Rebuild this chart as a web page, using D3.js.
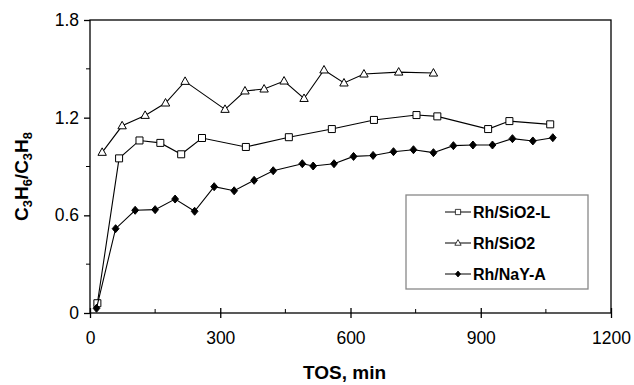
<!DOCTYPE html>
<html>
<head>
<meta charset="utf-8">
<script src="https://cdn.jsdelivr.net/npm/d3@7"></script>
<style>
  body { margin: 0; background: #fff; }
  text { font-family: "Liberation Sans", Arial, sans-serif; }
</style>
</head>
<body>
<div id="chart"></div>
<script>
// data
var tosSiO2L = [17, 67, 114, 162, 210, 258, 359, 458, 557, 654, 752, 800, 917, 966, 1060];
var valSiO2L = [0.06, 0.95, 1.06, 1.045, 0.975, 1.075, 1.02, 1.08, 1.13, 1.186, 1.216, 1.208, 1.13, 1.179, 1.159];

var tosSiO2 = [28, 74, 127, 174, 219, 311, 357, 401, 447, 493, 539, 585, 631, 711, 791];
var valSiO2 = [0.987, 1.15, 1.214, 1.29, 1.423, 1.251, 1.364, 1.376, 1.425, 1.318, 1.493, 1.413, 1.468, 1.48, 1.474];

var tosNaY = [15, 59, 104, 150, 196, 241, 286, 332, 378, 422, 489, 514, 562, 607, 652, 699, 745, 791, 837, 882, 927, 973, 1020, 1066];
var valNaY = [0.029, 0.518, 0.631, 0.635, 0.70, 0.625, 0.776, 0.751, 0.815, 0.874, 0.917, 0.903, 0.917, 0.962, 0.968, 0.991, 1.003, 0.985, 1.028, 1.032, 1.032, 1.071, 1.057, 1.077];

var seriesNames = ["Rh/SiO2-L", "Rh/SiO2", "Rh/NaY-A"];
var xTicks = [0, 300, 600, 900, 1200];
var xMinor = [150, 450, 750, 1050];
var yTicks = [0, 0.6, 1.2, 1.8];
var yMinor = [0.3, 0.9, 1.5];

var margin = { top: 20, right: 23, bottom: 72, left: 90 },
    width = 634 - margin.left - margin.right,
    height = 385 - margin.top - margin.bottom;

var svg = d3.select("#chart")
    .append("svg")
    .attr("width", 634)
    .attr("height", 385)
    .append("g")
    .attr("transform", "translate(" + margin.left + "," + margin.top + ")");

var x = d3.scaleLinear().domain([0, 1200]).range([0, width]);
var y = d3.scaleLinear().domain([0, 1.8]).range([height, 0]);

// frame
svg.append("rect")
    .attr("width", width)
    .attr("height", height)
    .style("fill", "none")
    .style("stroke", "#000")
    .style("stroke-width", 1.3);

// x axis: major ticks cross the axis, minor ticks inside
var xaxis = svg.append("g")
    .attr("transform", "translate(0," + height + ")")
    .call(d3.axisBottom(x).tickValues(xTicks).tickSize(5).tickPadding(14).tickFormat(d3.format("d")));
xaxis.select(".domain").remove();
xaxis.selectAll(".tick line").attr("y1", -5).style("stroke-width", 1.3);
xaxis.selectAll("text").style("font-size", "17.5px").style("fill", "#000");
svg.append("g").selectAll("line").data(xMinor).enter().append("line")
    .attr("x1", function (d) { return x(d); })
    .attr("x2", function (d) { return x(d); })
    .attr("y1", height)
    .attr("y2", height - 4)
    .style("stroke", "#000");

// y axis
var yaxis = svg.append("g")
    .call(d3.axisLeft(y).tickValues(yTicks).tickSize(6).tickPadding(5).tickFormat(function (d) { return d === 0 ? "0" : d3.format(".1f")(d); }));
yaxis.select(".domain").remove();
yaxis.selectAll(".tick line").style("stroke-width", 1.3);
yaxis.selectAll("text").style("font-size", "17.5px").style("fill", "#000");
svg.append("g").selectAll("line").data(yMinor).enter().append("line")
    .attr("x1", 0)
    .attr("x2", -4)
    .attr("y1", function (d) { return y(d); })
    .attr("y2", function (d) { return y(d); })
    .style("stroke", "#000");

// axis titles
svg.append("text")
    .attr("x", width / 2 - 6)
    .attr("y", height + 66)
    .style("text-anchor", "middle")
    .style("font-size", "19px")
    .style("font-weight", "bold")
    .text("TOS, min");

var ylab = svg.append("text")
    .attr("transform", "translate(" + (-62) + "," + (height / 2 + 10) + ") rotate(-90)")
    .style("text-anchor", "middle")
    .style("font-size", "19px")
    .style("font-weight", "bold");
[["C", false], ["3", true], ["H", false], ["6", true], ["/C", false], ["3", true], ["H", false], ["8", true]].forEach(function (p, i, arr) {
    var t = ylab.append("tspan").text(p[0]);
    if (p[1]) t.style("font-size", "13px").attr("dy", 4);
    else if (i > 0 && arr[i - 1][1]) t.attr("dy", -4);
});

// markers
var markers = {
    square: "M-3.5,-3.5H3.5V3.5H-3.5Z",
    triangle: "M0,-4.5L4.2,3L-4.2,3Z",
    diamond: "M0,-4L3.4,0L0,4L-3.4,0Z"
};

var series = [
    { name: seriesNames[0], xs: tosSiO2L, ys: valSiO2L, mark: "square", fill: "#fff" },
    { name: seriesNames[1], xs: tosSiO2, ys: valSiO2, mark: "triangle", fill: "#fff" },
    { name: seriesNames[2], xs: tosNaY, ys: valNaY, mark: "diamond", fill: "#000" }
];

var line = d3.line()
    .x(function (d) { return x(d[0]); })
    .y(function (d) { return y(d[1]); });

series.forEach(function (s) {
    var pts = d3.zip(s.xs, s.ys);
    svg.append("path")
        .datum(pts)
        .attr("d", line)
        .style("fill", "none")
        .style("stroke", "#000")
        .style("stroke-width", 1.1);
    svg.append("g").selectAll("path")
        .data(pts)
        .enter()
        .append("path")
        .attr("d", markers[s.mark])
        .attr("transform", function (d) { return "translate(" + x(d[0]) + "," + y(d[1]) + ")"; })
        .style("fill", s.fill)
        .style("stroke", "#000")
        .style("stroke-width", 1);
});

// legend
var legend = svg.append("g").attr("transform", "translate(" + (406 - margin.left) + "," + (195 - margin.top) + ")");
legend.append("rect")
    .attr("width", 182)
    .attr("height", 94)
    .style("fill", "#fff")
    .style("stroke", "#888")
    .style("stroke-width", 1.3);
series.forEach(function (s, i) {
    var g = legend.append("g").attr("transform", "translate(0," + (17 + i * 31) + ")");
    g.append("line")
        .attr("x1", 39).attr("x2", 65)
        .style("stroke", "#000");
    g.append("path")
        .attr("d", markers[s.mark])
        .attr("transform", "translate(52,0) scale(0.75)")
        .style("fill", s.fill)
        .style("stroke", "#000");
    g.append("text")
        .attr("x", 67)
        .attr("dy", "0.36em")
        .style("font-size", "16px")
        .style("font-weight", "bold")
        .text(s.name);
});
</script>
</body>
</html>
